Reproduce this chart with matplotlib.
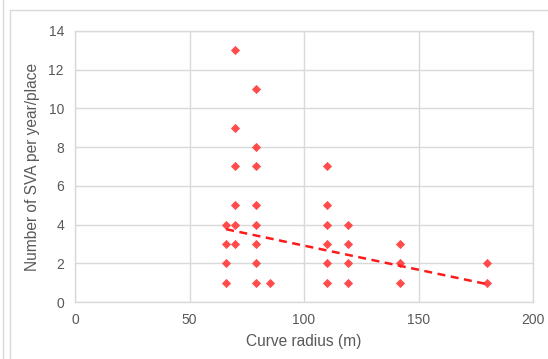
import matplotlib.pyplot as plt
from matplotlib.lines import Line2D
from matplotlib.patches import Rectangle

plt.rcParams['font.family'] = ['Liberation Sans', 'DejaVu Sans']

# curve radius (m) and SVA count per year/place, one entry per site
radius = [66, 66, 66, 66,
          70, 70, 70, 70, 70, 70,
          79, 79, 79, 79, 79, 79, 79, 79,
          85,
          110, 110, 110, 110, 110, 110,
          119, 119, 119, 119,
          142, 142, 142,
          180, 180]
sva = [4, 3, 2, 1,
       13, 9, 7, 5, 4, 3,
       11, 8, 7, 5, 4, 3, 2, 1,
       1,
       7, 5, 4, 3, 2, 1,
       4, 3, 2, 1,
       3, 2, 1,
       2, 1]

# linear trend line end points
trend_x = [66, 180]
trend_y = [3.76, 0.92]

xticks = [0, 50, 100, 150, 200]
yticks = [0, 2, 4, 6, 8, 10, 12, 14]

grid_c = '#d9d9d9'
text_c = '#595959'

fig = plt.figure(figsize=(5.48, 3.59), dpi=100)
W, H = 548, 359
ax = fig.add_axes([75 / W, 1 - 302 / H, (533 - 75) / W, (302 - 31) / H])

ax.scatter(radius, sva, marker='D', s=22, color='#ff4b4b', zorder=3, linewidths=0)
ax.plot(trend_x, trend_y, ls=(0, (3.2, 2.2)), color='#ff1a1a', lw=1.8, zorder=4)

ax.set_xlim(0, 200)
ax.set_ylim(0, 14)
ax.set_xticks(xticks)
ax.set_yticks(yticks)
ax.grid(True, color=grid_c, lw=1)
ax.set_axisbelow(True)
for s in ax.spines.values():
    s.set_color(grid_c)
    s.set_linewidth(1)
ax.tick_params(length=0, labelsize=10, colors=text_c, pad=8)
ax.set_xlabel('Curve radius (m)', fontsize=11.2, color=text_c, labelpad=5)
ax.set_ylabel('Number of SVA per year/place', fontsize=11.2, color=text_c, labelpad=6)

# outer chart frame and the page line on the left
fig.patches.append(Rectangle((10 / W, -0.1), 1.1, 1 - 10 / H + 0.1,
                             transform=fig.transFigure, fill=False,
                             edgecolor='#d9d9d9', lw=1))
fig.lines.append(Line2D([3 / W, 3 / W], [0, 1], transform=fig.transFigure,
                        color='#d9d9d9', lw=1))

fig.savefig('out.png', dpi=100)
